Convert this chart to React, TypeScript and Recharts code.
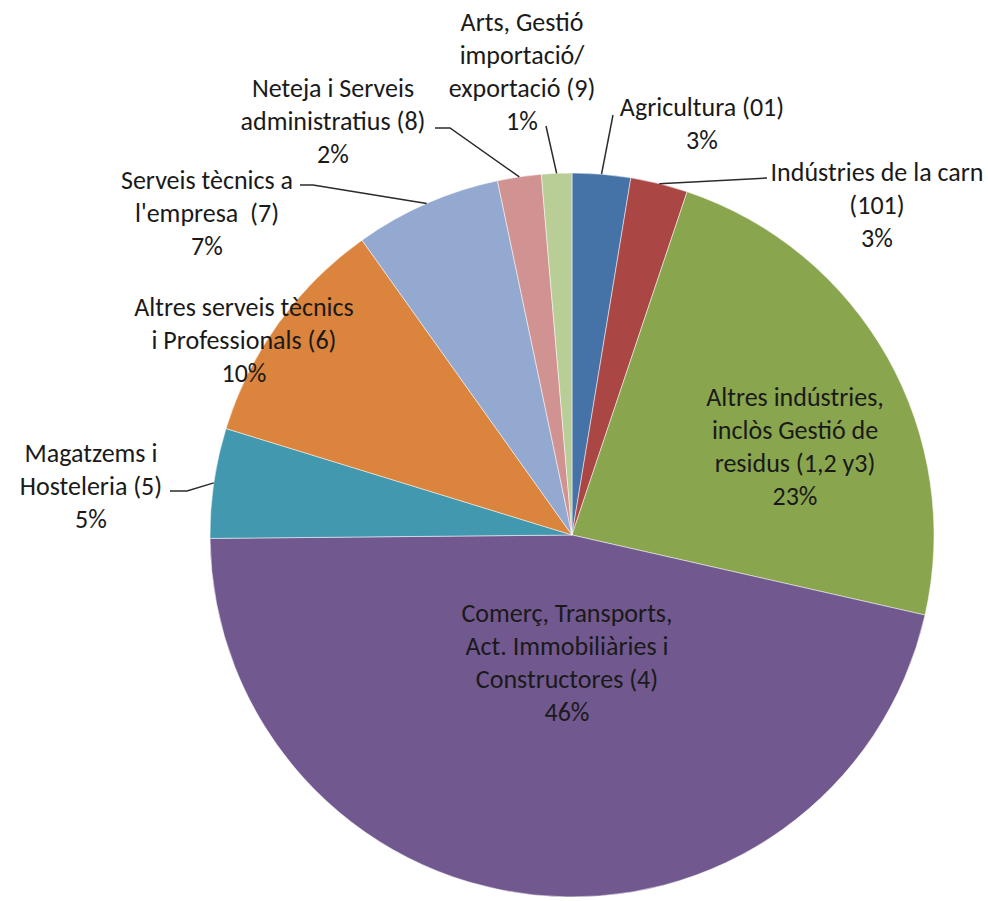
import { PieChart, Pie, Cell } from 'recharts'

const categories = [
  'Agricultura (01)',
  'Indústries de la carn\n(101)',
  'Altres indústries,\ninclòs Gestió de\nresidus (1,2 y3)',
  'Comerç, Transports,\nAct. Immobiliàries i\nConstructores (4)',
  'Magatzems i\nHosteleria (5)',
  'Altres serveis tècnics\ni Professionals (6)',
  "Serveis tècnics a\nl'empresa  (7)",
  'Neteja i Serveis\nadministratius (8)',
  'Arts, Gestió\nimportació/\nexportació (9)',
]

const shares = [2.6, 2.55, 23.4, 46.3, 4.9, 10.4, 6.55, 1.95, 1.35]

const colors = ['#4572A7', '#AA4643', '#89A54E', '#71588F', '#4198AF', '#DB843D', '#93A9CF', '#D19392', '#B9CD96']

// label block placement relative to the pie centre: first line centre + leader elbow/end points
const labelLayout = [
  { dx: 130, dy: -428, leader: [[41, -420]] },
  { dx: 305, dy: -363, leader: [[195, -357]] },
  { dx: 223, dy: -138, leader: [] },
  { dx: -5, dy: 78, leader: [] },
  { dx: -481, dy: -82, leader: [[-385, -44], [-402, -44]] },
  { dx: -328, dy: -228, leader: [] },
  { dx: -365, dy: -355, leader: [[-259, -350], [-272, -350]] },
  { dx: -239, dy: -447, leader: [[-122, -407], [-137, -407]] },
  { dx: -50, dy: -513, leader: [[-26, -409]] },
]

const data = categories.map((name, i) => ({ name, value: shares[i] }))
const total = shares.reduce((a, b) => a + b, 0)

const RAD = Math.PI / 180
const LINE_H = 33

function renderLabel(props: any) {
  const { cx, cy, midAngle, outerRadius, index, value } = props
  const layout = labelLayout[index]
  const lines = [...categories[index].split('\n'), `${Math.round((value / total) * 100)}%`]
  const ex = cx + outerRadius * Math.cos(-midAngle * RAD)
  const ey = cy + outerRadius * Math.sin(-midAngle * RAD)
  const pts = [[ex, ey], ...layout.leader.map(([x, y]) => [cx + x, cy + y])]
  return (
    <g key={`label-${index}`}>
      {layout.leader.length > 0 && (
        <polyline
          points={pts.map((p) => p.join(',')).join(' ')}
          fill="none"
          stroke="#2b2b2b"
          strokeWidth={1.5}
        />
      )}
      {lines.map((line, j) => (
        <text
          key={j}
          x={cx + layout.dx}
          y={cy + layout.dy + j * LINE_H}
          textAnchor="middle"
          dominantBaseline="central"
          fill="#1a1a1a"
          fontSize={26}
          fontFamily="Carlito, Lato, 'Open Sans', sans-serif"
          style={{ whiteSpace: 'pre' }}
        >
          {line}
        </text>
      ))}
    </g>
  )
}

export default function App() {
  return (
    <div style={{ position: 'absolute', left: 0, top: 0, width: 988, height: 901, background: '#fff' }}>
      <PieChart width={988} height={901} margin={{ top: 0, right: 0, bottom: 0, left: 0 }}>
        <Pie
          data={data}
          dataKey="value"
          nameKey="name"
          cx={572}
          cy={535}
          outerRadius={362}
          startAngle={90}
          endAngle={-270}
          stroke="#fff"
          strokeWidth={0.5}
          label={renderLabel}
          labelLine={false}
          isAnimationActive={false}
        >
          {data.map((entry, i) => (
            <Cell key={`cell-${i}`} fill={colors[i]} />
          ))}
        </Pie>
      </PieChart>
    </div>
  )
}
